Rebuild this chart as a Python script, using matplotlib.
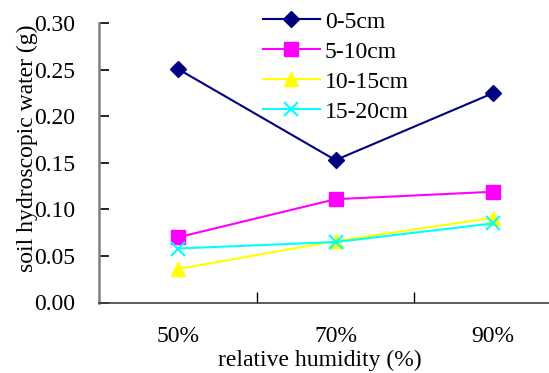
import numpy as np
import matplotlib.pyplot as plt

plt.rcParams['font.family'] = ['Liberation Serif', 'DejaVu Serif']

# humidity classes and soil hygroscopic water (g) per depth
humidity = ['50%', '70%', '90%']
depth_0_5 = [0.251, 0.153, 0.225]
depth_5_10 = [0.070, 0.111, 0.119]
depth_10_15 = [0.036, 0.066, 0.091]
depth_15_20 = [0.058, 0.065, 0.085]
yticks = [0.00, 0.05, 0.10, 0.15, 0.20, 0.25, 0.30]

fs = 17

fig = plt.figure(figsize=(5.49, 3.73), dpi=100)
# plot area runs past the right edge, as in the original
ax = fig.add_axes([99 / 549, 1 - 302.5 / 373, 473 / 549, 279.2 / 373])

x = np.arange(len(humidity))
ax.plot(x, depth_0_5, color='#000080', lw=1.5, marker='D', ms=7.8, label='0-5cm')
ax.plot(x, depth_5_10, color='#FF00FF', lw=1.5, marker='s', ms=9.5, label='5-10cm')
ax.plot(x, depth_10_15, color='#FFFF00', lw=1.5, marker='^', ms=10, label='10-15cm')
ax.plot(x, depth_15_20, color='#00FFFF', lw=1.5, marker='x', ms=10, mew=1.5, label='15-20cm')

ax.set_xlim(-0.5, 2.5)
ax.set_ylim(0, 0.30)
ax.set_yticks(yticks)
ax.set_yticklabels(['%.2f' % v for v in yticks], fontsize=fs)
ax.tick_params(axis='y', direction='in', length=7, width=1.2, color='black', pad=17)

# category boundaries as ticks, labels centered on categories
ax.set_xticks([0.5, 1.5])
ax.set_xticklabels([])
ax.tick_params(axis='x', direction='in', length=8, width=1, color='black')
for xi, lab in zip(x, humidity):
    ax.text(xi, -0.122, lab, transform=ax.get_xaxis_transform(), ha='center', va='center', fontsize=fs)

for side in ['top', 'right']:
    ax.spines[side].set_visible(False)
ax.spines['left'].set_color('#808080')
ax.spines['left'].set_linewidth(1.8)
ax.spines['bottom'].set_color('#404040')
ax.spines['bottom'].set_linewidth(1.2)

fig.text(27 / 549, 1 - 148.5 / 373, 'soil hydroscopic water (g)', rotation=90,
         ha='center', va='center', fontsize=fs)
fig.text(320 / 549, 1 - 360 / 373, 'relative humidity (%)', ha='center', va='center', fontsize=fs)

ax.legend(loc='upper left', bbox_to_anchor=(263 / 549, 1 - 11 / 373), bbox_transform=fig.transFigure,
          frameon=False, fontsize=fs, borderpad=0, borderaxespad=0, handlelength=2.4,
          handletextpad=0.21, labelspacing=0.36)

fig.savefig('out.png', dpi=100)
